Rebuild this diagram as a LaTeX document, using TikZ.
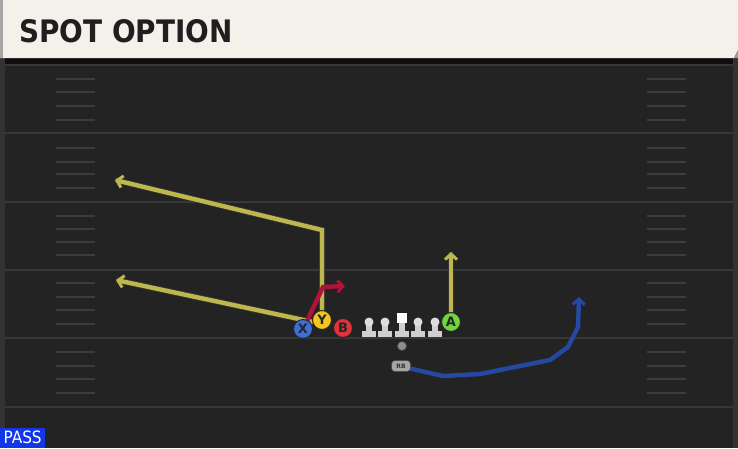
\documentclass[tikz,border=0pt]{standalone}
\usepackage{fontspec}
\setmainfont{DejaVu Sans}
\newfontfamily\titlefont{DejaVu Sans Condensed}
\usetikzlibrary{arrows.meta}
\definecolor{field}{HTML}{232323}
\definecolor{yardline}{HTML}{383838}
\definecolor{hashline}{HTML}{3C3C3C}
\definecolor{paper}{HTML}{F4F1EA}
\definecolor{routeY}{HTML}{BDB74E}
\definecolor{routeR}{HTML}{B0123A}
\definecolor{routeB}{HTML}{2548A0}
\definecolor{plX}{HTML}{3C6FDA}
\definecolor{plY}{HTML}{F2C61C}
\definecolor{plB}{HTML}{E2323C}
\definecolor{plA}{HTML}{72D43E}
\definecolor{olgray}{HTML}{CFCFCF}
\definecolor{passblue}{HTML}{1236E8}
\tikzset{
  player/.style={circle,draw=black!85,line width=1pt,minimum size=19pt,inner sep=0pt,
    font=\bfseries\fontsize{13}{13}\selectfont,text=black!85},
  route/.style={line width=4.4pt,line join=miter,
    -{Straight Barb[length=5.5pt,width=12pt,line width=3pt]}},
  plain route/.style={line width=4.4pt,line join=miter}
}
\begin{document}
\begin{tikzpicture}[x=1pt,y=-1pt]
      \useasboundingbox (0,0) rectangle (738,448);
      \fill[field] (0,0) rectangle (738,448);
      \fill[black!60!field] (0,58) rectangle (738,64);
      \fill[yardline!70!field] (0,58) rectangle (5,448);
      \fill[yardline!70!field] (733,58) rectangle (738,448);
      \foreach \y in {65,133,202,270,338,407}
        \draw[yardline,line width=2pt] (5,\y) -- (733,\y);
      \foreach \y in {79,92,106,120,148,162,174,188,216,229,242,255,283,297,310,324,352,366,379,393} {
        \draw[hashline,line width=1.5pt] (56,\y) -- (95,\y);
        \draw[hashline,line width=1.5pt] (647,\y) -- (686,\y);
      }
      \fill[paper] (0,0) -- (738,0) -- (738,50) -- (734,58) -- (0,58) -- cycle;
      \fill[black!35] (0,0) rectangle (3,58);
      \fill[black!40] (734,58) -- (738,50) -- (738,58) -- cycle;
      \node[anchor=west,inner sep=0pt,font=\titlefont\bfseries\fontsize{31}{31}\selectfont,text=black!88] (title) at (19,31) {SPOT OPTION};
      \node[fill=passblue,text=white,anchor=south west,minimum width=45pt,minimum height=20pt,inner sep=0pt,
        font=\titlefont\fontsize{17}{17}\selectfont] (pass) at (0,448) {PASS};
      \coordinate (yturn) at (322,230);
      \coordinate (ytip) at (115,180);
      \coordinate (xstart) at (313,322);
      \coordinate (xtip) at (116,280);
      \coordinate (rstart) at (307,321);
      \coordinate (rturn) at (323,287);
      \coordinate (rtip) at (345,286);
      \coordinate (atip) at (451,252);
      \coordinate (rbstart) at (408,368);
      \coordinate (rbtip) at (579,297);
      \draw[plain route,draw=black!80,line width=6pt] (xstart) -- (xtip);
      \draw[route,routeY] (xstart) -- (xtip);
      \draw[plain route,draw=black!80,line width=6pt] (322,318) -- (yturn) -- (ytip);
      \draw[route,routeY] (322,318) -- (yturn) -- (ytip);
      \draw[plain route,draw=black!80,line width=6pt] (451,320) -- (atip);
      \draw[route,routeY] (451,320) -- (atip);
      \draw[route,routeR] (rstart) -- (rturn) -- (rtip);
      \draw[route,routeB] (rbstart) -- (443,376) -- (480,374) -- (550,360) -- (568,347) -- (578,327) -- (rbtip);
      \foreach \x in {369,385,418,435} {
        \fill[olgray] (\x-3,323) rectangle (\x+3,332);
        \fill[olgray] (\x-7,331) rectangle (\x+7,337);
        \fill[olgray!70!white] (\x,322) circle (4.5);
      }
      \fill[olgray] (399,322) rectangle (405,332);
      \fill[olgray] (395,331) rectangle (409,337);
      \fill[white] (397,313) rectangle (407,323);
      \node[circle,fill=black!45,draw=black!70,line width=0.5pt,minimum size=9pt,inner sep=0pt] (qb) at (402,346) {};
      \node[player,fill=plY] (Y) at (322,320) {Y};
      \node[player,fill=plX] (X) at (303,329) {X};
      \node[player,fill=plB] (B) at (343,328) {B};
      \node[player,fill=plA] (A) at (451,322) {A};
      \node[rounded corners=3.5pt,fill=olgray!80!black,draw=black!70,line width=0.6pt,minimum width=19pt,minimum height=11pt,
        inner sep=0pt,font=\bfseries\fontsize{6}{6}\selectfont,text=black!80] (RB) at (401,366) {RB};
    \end{tikzpicture}
\end{document}
